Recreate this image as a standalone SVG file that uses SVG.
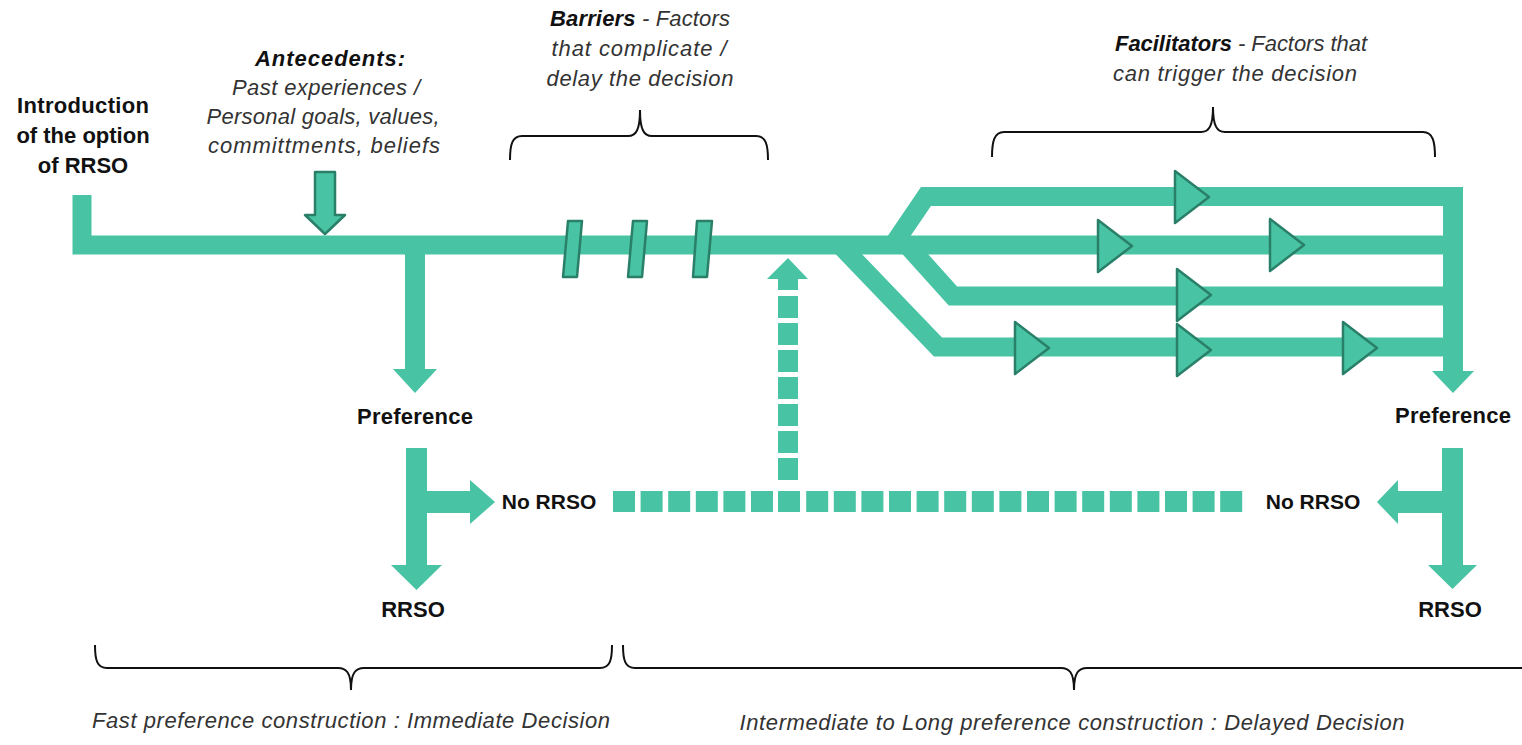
<svg xmlns="http://www.w3.org/2000/svg" width="1522" height="745" viewBox="0 0 1522 745">
<defs>
<style>
.track{fill:none;stroke:#48C3A4;stroke-width:19;stroke-linejoin:miter;stroke-linecap:butt}
.fill{fill:#48C3A4}
.ol{fill:#48C3A4;stroke:#2A7F69;stroke-width:2.5;stroke-linejoin:round}
.brace{fill:none;stroke:#111;stroke-width:2}
.b{font-family:"Liberation Sans",Arial,sans-serif;font-weight:bold;font-size:22px;fill:#111}
.nr{font-size:21px}
.i{font-family:"Liberation Sans",Arial,sans-serif;font-style:italic;font-size:22px;fill:#333}
.bi{font-family:"Liberation Sans",Arial,sans-serif;font-style:italic;font-weight:bold;font-size:22px;fill:#111}
</style>
<path id="tri" d="M0,-26 L34,0 L0,26 Z" class="ol"/>
<rect id="hd" width="22" height="21" class="fill"/>
<rect id="vd" width="20" height="22" class="fill"/>
</defs>
<rect width="1522" height="745" fill="#fff"/>

<g id="connectors">
<path class="track" d="M82,195 L82,245 L1453,245"/>
<path class="track" d="M893,245 L926,196.5 L1463,196.5"/>
<path class="track" d="M907,245 L953,296 L1453,296"/>
<path class="track" d="M840,245 L938,347 L1453,347"/>
<path class="fill" d="M1443,187 L1463,187 L1463,371 L1474,371 L1453,393 L1432,371 L1443,371 Z"/>
<path class="fill" d="M405,250 L425,250 L425,369 L437,369 L415,393 L393,369 L405,369 Z"/>
<path class="fill" d="M406,448 L427,448 L427,491 L470,491 L470,480 L495,502 L470,524 L470,513 L427,513 L427,565 L442,565 L416.5,590 L391,565 L406,565 Z"/>
<path class="fill" d="M1463,448 L1442,448 L1442,491 L1398,491 L1398,480 L1377,502 L1398,524 L1398,513 L1442,513 L1442,565 L1428,565 L1452.5,589 L1477,565 L1463,565 Z"/>
<g id="dash-h">
<use href="#hd" x="613" y="491"/><use href="#hd" x="640.6" y="491"/><use href="#hd" x="668.2" y="491"/><use href="#hd" x="695.8" y="491"/><use href="#hd" x="723.4" y="491"/><use href="#hd" x="751" y="491"/><use href="#hd" x="778" y="491"/><use href="#hd" x="806.2" y="491"/><use href="#hd" x="833.8" y="491"/><use href="#hd" x="861.4" y="491"/><use href="#hd" x="889" y="491"/><use href="#hd" x="916.6" y="491"/><use href="#hd" x="944.2" y="491"/><use href="#hd" x="971.8" y="491"/><use href="#hd" x="999.4" y="491"/><use href="#hd" x="1027" y="491"/><use href="#hd" x="1054.6" y="491"/><use href="#hd" x="1082.2" y="491"/><use href="#hd" x="1109.8" y="491"/><use href="#hd" x="1137.4" y="491"/><use href="#hd" x="1165" y="491"/><use href="#hd" x="1192.6" y="491"/><use href="#hd" x="1220.2" y="491"/>
</g>
<g id="dash-v">
<path class="fill" d="M788,258 L808,279 L798,279 L798,290 L778,290 L778,279 L767,279 Z"/>
<use href="#vd" x="778" y="296"/><use href="#vd" x="778" y="323"/><use href="#vd" x="778" y="350"/><use href="#vd" x="778" y="377"/><use href="#vd" x="778" y="404"/><use href="#vd" x="778" y="431"/><use href="#vd" x="778" y="458"/>
</g>
</g>

<g id="antecedents">
<path class="ol" d="M315,172 L335,172 L335,215 L345,215 L325,234 L305,215 L315,215 Z"/>
<text class="bi" x="330" y="66" text-anchor="middle" textLength="150">Antecedents:</text>
<text class="i" x="326" y="95" text-anchor="middle" textLength="188">Past experiences /</text>
<text class="i" x="323" y="124" text-anchor="middle" textLength="233">Personal goals, values,</text>
<text class="i" x="324" y="153" text-anchor="middle" textLength="232">committments, beliefs</text>
</g>

<g id="barriers">
<path class="ol" d="M568,221 L582,221 L577,277 L563,277 Z"/>
<path class="ol" d="M633,221 L647,221 L642,277 L628,277 Z"/>
<path class="ol" d="M697,221 L712,221 L707,277 L693,277 Z"/>
<path class="brace" d="M510,160 C510,145 512,136 522,136 L628,136 C636,136 640,130 640,110 C640,130 644,136 652,136 L756,136 C766,136 768,145 768,160"/>
<text x="640" y="26" text-anchor="middle" textLength="180"><tspan class="bi">Barriers</tspan><tspan class="i"> - Factors</tspan></text>
<text class="i" x="639" y="56" text-anchor="middle" textLength="175">that complicate /</text>
<text class="i" x="640" y="86" text-anchor="middle" textLength="187">delay the decision</text>
</g>

<g id="facilitators">
<use href="#tri" x="1175" y="197"/>
<use href="#tri" x="1098" y="246"/>
<use href="#tri" x="1270" y="245"/>
<use href="#tri" x="1177" y="295"/>
<use href="#tri" x="1015" y="348"/>
<use href="#tri" x="1177" y="350"/>
<use href="#tri" x="1343" y="348"/>
<path class="brace" d="M992,157 C992,142 994,132 1004,132 L1201,132 C1209,132 1213,126 1213,107 C1213,126 1217,132 1225,132 L1423,132 C1433,132 1435,142 1435,157"/>
<text x="1241" y="51" text-anchor="middle" textLength="252"><tspan class="bi">Facilitators</tspan><tspan class="i"> - Factors that</tspan></text>
<text class="i" x="1235" y="81" text-anchor="middle" textLength="244">can trigger the decision</text>
</g>

<g id="intro">
<text class="b" x="83" y="113" text-anchor="middle" textLength="132">Introduction</text>
<text class="b" x="83" y="143" text-anchor="middle">of the option</text>
<text class="b" x="83" y="173" text-anchor="middle">of RRSO</text>
</g>

<g id="left-decision">
<text class="b" x="415" y="424" text-anchor="middle" textLength="116">Preference</text>
<text class="b nr" x="549" y="509" text-anchor="middle">No RRSO</text>
<text class="b" x="413" y="617" text-anchor="middle">RRSO</text>
</g>

<g id="right-decision">
<text class="b" x="1453" y="423" text-anchor="middle" textLength="116">Preference</text>
<text class="b nr" x="1313" y="509" text-anchor="middle">No RRSO</text>
<text class="b" x="1450" y="617" text-anchor="middle">RRSO</text>
</g>

<g id="phases">
<path class="brace" d="M95,645 C95,660 97,668 107,668 L338,668 C346,668 351,672 351,690 C351,672 356,668 364,668 L600,668 C610,668 612,660 612,645"/>
<path class="brace" d="M623,645 C623,660 625,668 635,668 L1061,668 C1069,668 1074,672 1074,690 C1074,672 1079,668 1087,668 L1522,668"/>
<text class="i" x="351" y="728" text-anchor="middle" textLength="518">Fast preference construction : Immediate Decision</text>
<text class="i" x="1072" y="730" text-anchor="middle" textLength="665">Intermediate to Long preference construction : Delayed Decision</text>
</g>
</svg>
